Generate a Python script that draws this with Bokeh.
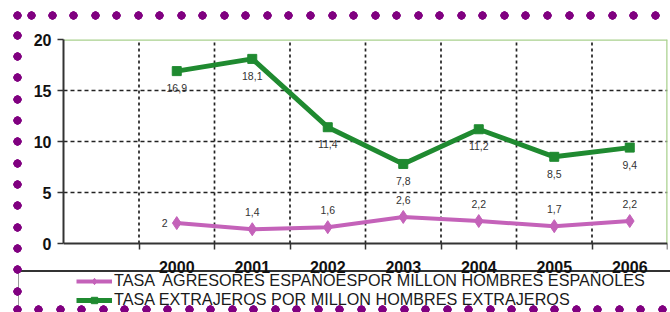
from bokeh.plotting import figure
from bokeh.models import (Range1d, FixedTicker, LabelSet, ColumnDataSource, Legend,
                          LegendItem)
from bokeh.core.properties import value
from bokeh.embed import file_html
from bokeh.resources import INLINE

# ---------------- data ----------------
years = ["2000", "2001", "2002", "2003", "2004", "2005", "2006"]
extranjeros = [16.9, 18.1, 11.4, 7.8, 11.2, 8.5, 9.4]
espanoles = [2.0, 1.4, 1.6, 2.6, 2.2, 1.7, 2.2]
extr_labels = ["16,9", "18,1", "11,4", "7,8", "11,2", "8,5", "9,4"]
esp_labels = ["2", "1,4", "1,6", "2,6", "2,2", "1,7", "2,2"]
y_ticks = [0, 5, 10, 15, 20]
series_names = ["TASA  AGRESORES ESPAÑOESPOR MILLON HOMBRES ESPAÑOLES",
                "TASA EXTRAJEROS POR MILLON HOMBRES EXTRAJEROS"]

# ---------------- style ----------------
GREEN = "#1f8a30"
PINK = "#c462b9"
FONT = "Liberation Sans"
W, H = 670, 312
TOP, LEFT, RIGHT = 39, 63, 3
ZERO_PX = 243                      # canvas row of y = 0

n = len(years)
xs = [i + 1.5 for i in range(n)]          # one empty slot before 2000
bounds = list(range(0, n + 2))
ymax = y_ticks[-1]
ymin = -(H - ZERO_PX) * ymax / (ZERO_PX - TOP)   # frame runs to the bottom edge

# decorative purple dotted frame + dark rule, drawn as CSS backgrounds behind the canvas
dots = [(17, 15), (31, 15)] + [(52 + 21.54 * k, 15) for k in range(29)]
dots += [(17, 35 + 21.33 * k) for k in range(13)]
dots += [(17 + 21.5 * k, 309) for k in range(31)]
layers, sizes, positions = [], [], []
for cx, cy in dots:
    layers.append("radial-gradient(circle closest-side, #800080 88%, rgba(128,0,128,0) 100%)")
    sizes.append("9px 9px")
    positions.append(f"{cx - 4.5:.1f}px {cy - 4.5:.1f}px")
layers.append("linear-gradient(#333333, #333333)")
sizes.append("653px 2px")
positions.append("17px 270px")
layers.append("linear-gradient(#9a9a9a, #9a9a9a)")
sizes.append("1px 41px")
positions.append("18px 271px")
css = {
    "background-color": "white",
    "background-image": ", ".join(layers),
    "background-size": ", ".join(sizes),
    "background-position": ", ".join(positions),
    "background-repeat": "no-repeat",
}

p = figure(width=W, height=H, output_backend="svg", toolbar_location=None,
           x_range=Range1d(0, n + 1), y_range=Range1d(ymin, ymax),
           min_border_left=LEFT, min_border_right=RIGHT, min_border_top=TOP,
           min_border_bottom=0, styles=css)
p.background_fill_color = None
p.border_fill_color = None
p.outline_line_color = None

# y axis (only spans 0..20)
p.yaxis.ticker = FixedTicker(ticks=y_ticks)
p.yaxis.bounds = (0, ymax)
p.yaxis.major_label_text_font = FONT
p.yaxis.major_label_text_font_style = "bold"
p.yaxis.major_label_text_font_size = "16px"
p.yaxis.major_label_text_color = "#111111"
p.yaxis.axis_line_color = "#333333"
p.yaxis.axis_line_width = 2
p.yaxis.major_tick_line_color = "#333333"
p.yaxis.major_tick_line_width = 1.5
p.yaxis.major_tick_out = 6
p.yaxis.major_tick_in = 0
p.yaxis.minor_tick_line_color = None
p.yaxis.major_label_standoff = 6

# x axis pinned at y = 0
p.xaxis.fixed_location = 0
p.xaxis.ticker = FixedTicker(ticks=xs, minor_ticks=bounds[1:])
p.xaxis.major_label_overrides = {x: y for x, y in zip(xs, years)}
p.xaxis.major_label_text_font = FONT
p.xaxis.major_label_text_font_style = "bold"
p.xaxis.major_label_text_font_size = "16px"
p.xaxis.major_label_text_color = "#111111"
p.xaxis.axis_line_color = "#333333"
p.xaxis.axis_line_width = 2
p.xaxis.major_tick_line_color = None
p.xaxis.major_tick_out = 0
p.xaxis.major_tick_in = 0
p.xaxis.minor_tick_line_color = "#333333"
p.xaxis.minor_tick_line_width = 1.5
p.xaxis.minor_tick_out = 6
p.xaxis.minor_tick_in = 0
p.xaxis.major_label_standoff = 11

# grids: horizontal via Grid, vertical dashed separators limited to 0..20
p.xgrid.visible = False
p.ygrid.ticker = FixedTicker(ticks=y_ticks[1:-1])
p.ygrid.grid_line_color = "#222222"
p.ygrid.grid_line_dash = "4 3"
p.ygrid.grid_line_width = 1.5
seps = bounds[1:n + 1]
p.segment(x0=seps, y0=[0] * len(seps), x1=seps, y1=[ymax] * len(seps),
          line_color="#222222", line_dash="3 3", line_width=1.7)

# light green plot-area border (top and right)
p.segment(x0=[0, n + 1], y0=[ymax, 0], x1=[n + 1, n + 1], y1=[ymax, ymax],
          line_color="#a9d18e", line_width=2.5)

# series
pink_l = p.line(xs, espanoles, line_color=PINK, line_width=4)
pink_m = p.scatter(xs, espanoles, marker="diamond", size=13, color=PINK)
green_l = p.line(xs, extranjeros, line_color=GREEN, line_width=5)
green_m = p.scatter(xs, extranjeros, marker="square", size=9, color=GREEN)

# data labels
src_g = ColumnDataSource(dict(x=xs, y=extranjeros, t=extr_labels))
p.add_layout(LabelSet(x="x", y="y", text="t", source=src_g, y_offset=-17,
                      text_align="center", text_baseline="middle",
                      text_font=value(FONT), text_font_size="10.5px", text_color="#333333"))
esp_dx = [-12] + [0] * (n - 1)
esp_dy = [0] + [17] * (n - 1)
src_p = ColumnDataSource(dict(x=xs, y=espanoles, t=esp_labels, dx=esp_dx, dy=esp_dy))
p.add_layout(LabelSet(x="x", y="y", text="t", source=src_p, x_offset="dx", y_offset="dy",
                      text_align="center", text_baseline="middle",
                      text_font=value(FONT), text_font_size="10.5px", text_color="#333333"))

# legend inside the (extended) frame, under the axis; location = bottom-left corner
legend = Legend(items=[LegendItem(label=series_names[0], renderers=[pink_l, pink_m]),
                       LegendItem(label=series_names[1], renderers=[green_l, green_m])],
                location=(13, 3), orientation="vertical",
                label_text_font=FONT, label_text_font_size="16.2px",
                label_text_line_height=1.0,
                label_text_color="#1a1a1a", glyph_width=36, glyph_height=16,
                label_height=16, label_standoff=2, spacing=-2, padding=0, margin=0,
                border_line_color=None, background_fill_alpha=0)
p.add_layout(legend)

open("out.html", "w").write(file_html(p, INLINE))
